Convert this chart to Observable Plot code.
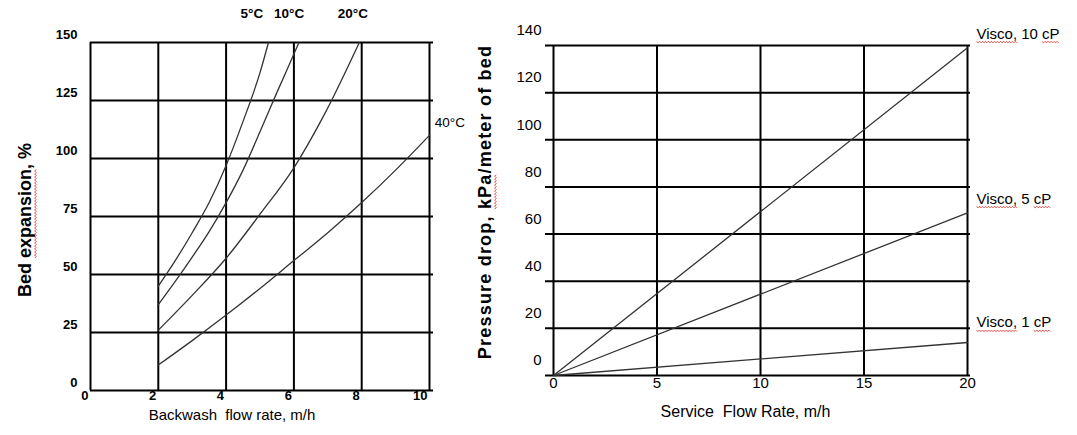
<!DOCTYPE html>
<html><head><meta charset="utf-8">
<script src="https://cdn.jsdelivr.net/npm/d3@7"></script>
<script src="https://cdn.jsdelivr.net/npm/@observablehq/plot@0.6"></script>
<style>
body{margin:0;background:#fff;}
#wrap{display:flex;width:1077px;height:435px;overflow:hidden;}
</style></head>
<body><div id="wrap"></div>
<script>
// ---- Left panel: bed expansion vs backwash flow rate ----
const temperatures = ["5°C", "10°C", "20°C", "40°C"];
const flow5C  = [2, 2.5, 3, 3.5, 4, 4.5, 5, 5.25];
const exp5C   = [45, 56, 68, 81, 97, 116, 137, 150];
const flow10C = [2, 2.5, 3, 3.5, 4, 4.5, 5, 5.5, 6, 6.15];
const exp10C  = [37, 47, 57.5, 68.5, 81, 95, 111.5, 128.5, 145, 150];
const flow20C = [2, 3, 4, 5, 6, 6.9, 7.93];
const exp20C  = [26, 41, 57, 76, 96, 119, 150];
const flow40C = [2, 3, 4, 5, 6, 7, 8, 9, 10];
const exp40C  = [11, 21.5, 32.5, 44, 56, 68, 81, 95, 110];
const tempLabelFlow = [4.76, 5.86, 7.74, 10.6];
const tempLabelExp  = [162.5, 162.5, 162.5, 115.5];
const bedTicksX = [0, 2, 4, 6, 8, 10];
const bedTicksY = [0, 25, 50, 75, 100, 125, 150];

// ---- Right panel: pressure drop vs service flow rate ----
const viscosities = ["Visco, 10 cP", "Visco, 5 cP", "Visco, 1 cP"];
const serviceFlow = [0, 20];
const drop10cP = [0, 139];
const drop5cP  = [0, 69];
const drop1cP  = [0, 14];
const viscoLabelFlow = [20, 20, 20];
const viscoLabelDrop = [145, 75, 22.5];
const dropTicksX = [0, 5, 10, 15, 20];
const dropTicksY = [0, 20, 40, 60, 80, 100, 120, 140];

const bedFlows = [flow5C, flow10C, flow20C, flow40C];
const bedExps = [exp5C, exp10C, exp20C, exp40C];
const bedRows = temperatures.flatMap((t, i) => bedFlows[i].map((f, j) => ({temp: t, flow: f, exp: bedExps[i][j]})));
const tempLabels = temperatures.map((t, i) => ({temp: t, flow: tempLabelFlow[i], exp: tempLabelExp[i]}));

const drops = [drop10cP, drop5cP, drop1cP];
const dropRows = viscosities.flatMap((v, i) => serviceFlow.map((f, j) => ({visco: v, flow: f, drop: drops[i][j]})));
const viscoLabels = viscosities.map((v, i) => ({visco: v, flow: viscoLabelFlow[i], drop: viscoLabelDrop[i]}));

const font = "'Liberation Sans', Arial, sans-serif";
const style = {fontFamily: font, background: "white", overflow: "visible", color: "black"};
const bedTitle = "Bed expansion, %";
const dropTitle = "Pressure drop, kPa/meter of bed";

const left = Plot.plot({
  width: 470, height: 435,
  marginLeft: 90, marginRight: 41, marginTop: 42, marginBottom: 45,
  x: {domain: [0, 10]}, y: {domain: [0, 150]},
  style,
  marks: [
    Plot.ruleX(bedTicksX, {stroke: "black", strokeWidth: 2}),
    Plot.ruleY(bedTicksY, {stroke: "black", strokeWidth: 2, insetRight: -4}),
    Plot.line(bedRows, {x: "flow", y: "exp", z: "temp", stroke: "#333", strokeWidth: 1.3, curve: "monotone-x"}),
    Plot.axisX(bedTicksX, {tickSize: 0, tickPadding: 0, fontSize: 13, fontWeight: "bold", textAnchor: "end", dx: -2, label: null}),
    Plot.axisY(bedTicksY, {tickSize: 0, tickPadding: 13, fontSize: 13, fontWeight: "bold", dy: -8, label: null}),
    Plot.text(tempLabels, {filter: d => d.temp !== "40°C", x: "flow", y: "exp", text: "temp", fontSize: 13.5, fontWeight: "bold"}),
    Plot.text(tempLabels, {filter: d => d.temp === "40°C", x: "flow", y: "exp", text: "temp", fontSize: 13.5}),
    Plot.text([bedTitle], {text: d => d, frameAnchor: "left", textAnchor: "middle", rotate: -90, dx: -65, dy: 3.5, fontSize: 18, fontWeight: "bold"}),
    Plot.text(["Backwash  flow rate, m/h"], {text: d => d, frameAnchor: "bottom", dx: -28, dy: 29, fontSize: 15})
  ]
});

const right = Plot.plot({
  width: 607, height: 435,
  marginLeft: 83, marginRight: 110, marginTop: 45, marginBottom: 60,
  x: {domain: [0, 20]}, y: {domain: [0, 140]},
  style,
  marks: [
    Plot.ruleX(dropTicksX, {stroke: "black", strokeWidth: 2}),
    Plot.ruleY(dropTicksY, {stroke: "black", strokeWidth: 2, insetLeft: -8, insetRight: -3}),
    Plot.line(dropRows, {x: "flow", y: "drop", z: "visco", stroke: "#333", strokeWidth: 1.3}),
    Plot.axisX(dropTicksX, {tickSize: 0, tickPadding: 2, fontSize: 15, label: null}),
    Plot.axisY(dropTicksY, {tickSize: 0, tickPadding: 12, fontSize: 15, dy: -15, label: null}),
    Plot.text(viscoLabels, {x: "flow", y: "drop", text: "visco", textAnchor: "start", dx: 9, fontSize: 15}),
    Plot.text([dropTitle], {text: d => d, frameAnchor: "left", textAnchor: "middle", rotate: -90, dx: -68, dy: -8.5, fontSize: 18, fontWeight: "bold"}),
    Plot.text(["Service  Flow Rate, m/h"], {text: d => d, frameAnchor: "bottom", dx: -15, dy: 41, fontSize: 16})
  ]
});

const wrap = document.getElementById("wrap");
wrap.appendChild(left);
wrap.appendChild(right);

// widen the right title a little, as in the reference
d3.select(right).selectAll("text").filter(function() { return this.textContent === dropTitle; })
  .style("letter-spacing", "1.2px");

// red spell-check squiggles under some words (decoration only)
function squiggle(svg, words) {
  d3.select(svg).selectAll("text").each(function() {
    const el = this;
    const t = el.textContent;
    words.forEach(w => {
      const i = t.indexOf(w);
      if (i < 0) return;
      const a = el.getStartPositionOfChar(i);
      const b = el.getEndPositionOfChar(i + w.length - 1);
      const fs = parseFloat(getComputedStyle(el).fontSize) || 14;
      const y0 = a.y + fs * 0.2;
      let d = `M${a.x},${y0}`;
      let k = 0;
      for (let x = a.x + 1.5; x <= b.x; x += 1.5) { k++; d += `L${x},${y0 + (k % 2 ? 1.3 : -0.2)}`; }
      const p = document.createElementNS("http://www.w3.org/2000/svg", "path");
      p.setAttribute("d", d);
      p.setAttribute("fill", "none");
      p.setAttribute("stroke", "#e8302c");
      p.setAttribute("stroke-width", "0.9");
      const tr = el.getAttribute("transform");
      if (tr) p.setAttribute("transform", tr);
      el.parentNode.appendChild(p);
    });
  });
}
squiggle(left, ["expansion"]);
squiggle(right, ["Visco,", "cP", "kPa"]);
</script>
</body></html>
